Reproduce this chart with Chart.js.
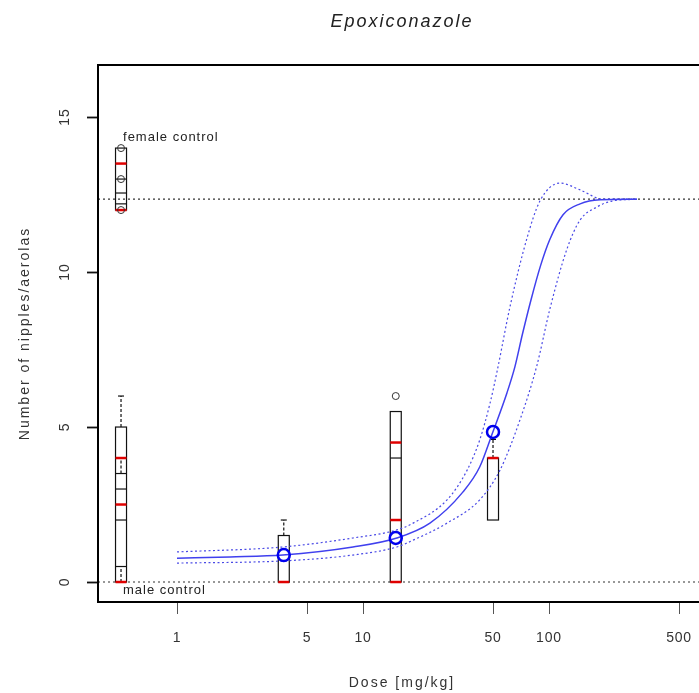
<!DOCTYPE html>
<html>
<head>
<meta charset="utf-8">
<script src="https://cdn.jsdelivr.net/npm/chart.js@4.4.1/dist/chart.umd.min.js"></script>
<style>
  html, body { margin: 0; padding: 0; background: #fff; overflow: hidden; }
  #wrap { width: 720px; height: 693px; }
</style>
</head>
<body>
<div id="wrap"><canvas id="doseChart" width="720" height="693"></canvas></div>
<script>
// values
const xTicks = [1, 5, 10, 50, 100, 500];
const yTicks = [0, 5, 10, 15];

// fitted dose-response curve and its confidence band
const curveDose = [1, 1.93, 3.71, 8.83, 15.2, 22.9, 34.4, 42.4, 49.9, 59.4, 65.6, 72, 80, 90, 101, 119, 147, 188, 297];
const curveFit  = [0.77, 0.81, 0.87, 1.13, 1.42, 1.9, 2.9, 3.71, 4.84, 6.1, 6.95, 8.0, 9.1, 10.2, 11.05, 11.85, 12.2, 12.33, 12.35];
const upperDose = [1, 3.71, 8.83, 15.2, 18.6, 28.3, 36.3, 42.4, 48.2, 52.6, 61.8, 76.2, 89.5, 114.6, 147, 195, 297];
const upperFit  = [0.97, 1.13, 1.42, 1.68, 1.9, 2.65, 3.61, 4.58, 5.77, 6.8, 8.9, 11.1, 12.3, 12.87, 12.65, 12.35, 12.35];
const lowerDose = [1, 3.71, 8.83, 15.2, 18.6, 28.3, 42.4, 54.5, 69.8, 86.2, 101, 125, 147, 181, 218, 297];
const lowerFit  = [0.61, 0.68, 0.87, 1.13, 1.35, 1.9, 2.65, 3.61, 5.23, 7.0, 8.8, 10.75, 11.68, 12.1, 12.29, 12.35];

// group means (blue circles)
const meanDose  = [3.75, 15, 50];
const meanValue = [0.87, 1.42, 4.84];

// boxplots: female control, male control, then dose groups
const groupDose   = [0.5, 0.5, 3.75, 15, 50];
const boxLow      = [12, 0, 0, 0, 2];
const boxHigh     = [14, 5, 1.5, 5.5, 4];
const whiskerTop  = [14, 6, 2, 5.5, 4.6];
const medianLines = [[13, 12.55, 12.2], [3.5, 3, 2, 0.5], [], [4], []];
const redLines    = [[13.5, 12], [4, 2.5, 0], [0], [4.5, 2, 0], [4]];
const outlierPts  = [[14, 13, 12], [], [], [6], []];
const innerDashes = [[], [[3.5, 4], [0, 0.5]], [], [], []];

const controlLevels = [0, 12.35];

Chart.defaults.font.family = "'Liberation Sans', Arial, sans-serif";

const toPoints = (xs, ys) => xs.map((d, i) => ({ x: d, y: ys[i] }));

const boxPlot = {
    id: 'boxPlot',
    beforeDraw(chart) {
        // the original device spaces its letters out a bit
        chart.ctx.letterSpacing = '2px';
    },
    beforeDatasetsDraw(chart) {
        const { ctx, chartArea, scales: { x, y } } = chart;
        const seg = (x1, y1, x2, y2) => {
            ctx.beginPath(); ctx.moveTo(x1, y1); ctx.lineTo(x2, y2); ctx.stroke();
        };
        ctx.save();

        // dotted control levels
        ctx.strokeStyle = '#333';
        ctx.lineWidth = 1.2;
        ctx.setLineDash([2, 3]);
        controlLevels.forEach(v => {
            const py = y.getPixelForValue(v);
            seg(chartArea.left, py, chartArea.right, py);
        });

        groupDose.forEach((d, i) => {
            const cx = x.getPixelForValue(d);
            const hw = 5.5;
            const top = y.getPixelForValue(boxHigh[i]);
            const bot = y.getPixelForValue(boxLow[i]);

            // whisker
            ctx.strokeStyle = '#111';
            ctx.lineWidth = 1.2;
            if (whiskerTop[i] > boxHigh[i]) {
                const wy = y.getPixelForValue(whiskerTop[i]);
                ctx.setLineDash([3, 2]);
                seg(cx, top, cx, wy);
                ctx.setLineDash([]);
                if (outlierPts[i].length === 0) seg(cx - 3, wy, cx + 3, wy);
            }
            ctx.setLineDash([3, 2]);
            innerDashes[i].forEach(([a, b]) => seg(cx, y.getPixelForValue(a), cx, y.getPixelForValue(b)));
            ctx.setLineDash([]);

            ctx.strokeRect(cx - hw, top, hw * 2, bot - top);
            medianLines[i].forEach(v => {
                const py = y.getPixelForValue(v);
                seg(cx - hw, py, cx + hw, py);
            });

            ctx.strokeStyle = '#e00000';
            ctx.lineWidth = 2.5;
            redLines[i].forEach(v => {
                const py = y.getPixelForValue(v);
                seg(cx - hw, py, cx + hw, py);
            });

            ctx.strokeStyle = '#333';
            ctx.lineWidth = 1;
            outlierPts[i].forEach(v => {
                ctx.beginPath();
                ctx.arc(cx, y.getPixelForValue(v), 3.5, 0, Math.PI * 2);
                ctx.stroke();
            });
        });
        ctx.restore();
    },
    afterDatasetsDraw(chart) {
        // tick labels (z: 1) come after this point
        chart.ctx.letterSpacing = '0.8px';
    },
    afterDraw(chart) {
        const { ctx, chartArea, scales: { x, y } } = chart;
        ctx.save();
        ctx.strokeStyle = '#000';
        ctx.lineWidth = 2;
        ctx.strokeRect(chartArea.left, chartArea.top, chartArea.right - chartArea.left, chartArea.bottom - chartArea.top);

        // control labels
        const cx = x.getPixelForValue(groupDose[0]) + 2;
        ctx.letterSpacing = '1px';
        ctx.fillStyle = '#222';
        ctx.font = "13px 'Liberation Sans', Arial, sans-serif";
        ctx.textAlign = 'left';
        ctx.textBaseline = 'middle';
        ctx.fillText('female control', cx, y.getPixelForValue(boxHigh[0]) - 11);
        ctx.fillText('male control', cx, y.getPixelForValue(controlLevels[0]) + 8);
        ctx.restore();
    }
};

new Chart(document.getElementById('doseChart'), {
    type: 'line',
    data: {
        datasets: [{
            label: 'means',
            data: toPoints(meanDose, meanValue),
            showLine: false,
            pointStyle: 'circle',
            pointRadius: 6,
            pointBorderWidth: 2.5,
            pointBorderColor: '#0000ee',
            pointBackgroundColor: 'rgba(0,0,0,0)',
            order: 0
        }, {
            label: 'fit',
            data: toPoints(curveDose, curveFit),
            borderColor: '#4040ee',
            borderWidth: 1.5,
            pointRadius: 0,
            cubicInterpolationMode: 'monotone',
            fill: false,
            order: 1
        }, {
            label: 'upper',
            data: toPoints(upperDose, upperFit),
            borderColor: '#4a4ae6',
            borderWidth: 1.2,
            borderDash: [2, 2.5],
            pointRadius: 0,
            cubicInterpolationMode: 'monotone',
            fill: false,
            order: 2
        }, {
            label: 'lower',
            data: toPoints(lowerDose, lowerFit),
            borderColor: '#4a4ae6',
            borderWidth: 1.2,
            borderDash: [2, 2.5],
            pointRadius: 0,
            cubicInterpolationMode: 'monotone',
            fill: false,
            order: 2
        }]
    },
    options: {
        responsive: false,
        animation: false,
        layout: { padding: { left: 0, right: 14, top: 0, bottom: 0 } },
        scales: {
            x: {
                type: 'logarithmic',
                min: 0.376,
                max: 698.4,
                bounds: 'data',
                afterBuildTicks: s => { s.ticks = xTicks.map(v => ({ value: v })); },
                afterFit: s => { s.height = 91; },
                border: { display: false },
                grid: { drawOnChartArea: false, tickLength: 12, tickColor: '#555', tickWidth: 1 },
                ticks: {
                    z: 1,
                    color: '#333',
                    font: { size: 14 },
                    padding: 15.6,
                    maxRotation: 0,
                    autoSkip: false,
                    callback: v => String(v)
                },
                title: {
                    display: true,
                    text: 'Dose [mg/kg]',
                    color: '#333',
                    font: { size: 14 },
                    padding: { top: 0, bottom: 1.6 }
                }
            },
            y: {
                type: 'linear',
                min: -0.645,
                max: 16.68,
                bounds: 'data',
                afterBuildTicks: s => { s.ticks = yTicks.map(v => ({ value: v })); },
                afterFit: s => { s.width = 98; },
                border: { display: false },
                grid: { drawOnChartArea: false, tickLength: 11, tickColor: '#111', tickWidth: 1.8 },
                ticks: {
                    z: 1,
                    color: '#333',
                    font: { size: 14 },
                    padding: 14.2,
                    minRotation: 90,
                    maxRotation: 90,
                    crossAlign: 'center'
                },
                title: {
                    display: true,
                    text: 'Number of nipples/aerolas',
                    color: '#333',
                    font: { size: 14 },
                    padding: { top: 16.6, bottom: 0 }
                }
            }
        },
        plugins: {
            legend: { display: false },
            tooltip: { enabled: false },
            title: {
                display: true,
                text: 'Epoxiconazole',
                fullSize: false,
                color: '#222',
                font: { size: 18, style: 'italic', weight: 'normal' },
                padding: { top: 11.2, bottom: 32.2 }
            }
        }
    },
    plugins: [boxPlot]
});
</script>
</body>
</html>
